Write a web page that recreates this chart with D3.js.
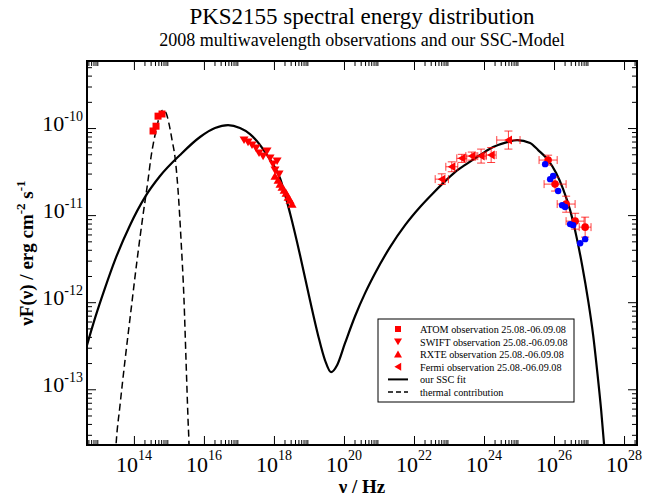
<!DOCTYPE html>
<html>
<head>
<meta charset="utf-8">
<script src="https://cdn.jsdelivr.net/npm/d3@7"></script>
<style>
  body { margin: 0; background: #fff; }
  text { font-family: "Liberation Serif", "Times New Roman", serif; }
</style>
</head>
<body>
<svg id="chart" width="662" height="498"></svg>
<script>
// ---- data (nu in Hz, nuF_nu in erg cm^-2 s^-1) ----
const xTickExp = [14, 16, 18, 20, 22, 24, 26, 28];
const yTickExp = [-13, -12, -11, -10];

const sscFit = [
	[4.57e12, 3.21e-13], [7.74e12, 6.55e-13], [1.49e13, 1.45e-12], [2.88e13, 3.04e-12],
	[7.74e13, 7.67e-12], [2.07e14, 1.61e-11], [5.57e14, 2.81e-11], [2.07e15, 4.9e-11],
	[7.74e15, 7.89e-11], [2.07e16, 1.0e-10], [4.89e16, 1.08e-10], [1.07e17, 1.0e-10],
	[2.07e17, 8.53e-11], [6.35e17, 4.9e-11], [1.49e18, 2.66e-11], [2.88e18, 1.05e-11],
	[5.57e18, 3.47e-12], [1.07e19, 1.05e-12], [1.82e19, 4.18e-13], [2.88e19, 2.15e-13],
	[4.28e19, 1.57e-13], [6.35e19, 1.89e-13], [1.07e20, 3.38e-13], [2.07e20, 6.9e-13],
	[4.01e20, 1.27e-12], [7.74e20, 2.15e-12], [2.07e21, 4.29e-12], [5.57e21, 7.67e-12],
	[1.49e22, 1.24e-11], [3.29e22, 1.74e-11], [6.78e22, 2.33e-11], [1.49e23, 3.12e-11],
	[3.29e23, 3.91e-11], [7.74e23, 4.9e-11], [1.82e24, 6.05e-11], [4.57e24, 6.9e-11],
	[8.83e24, 7.28e-11], [2.07e25, 6.73e-11], [3.52e25, 5.58e-11], [6.78e25, 4.29e-11],
	[1.15e26, 3.04e-11], [1.82e26, 1.99e-11], [2.88e26, 1.14e-11], [4.28e26, 5.89e-12],
	[6.35e26, 2.66e-12], [9.42e26, 1.05e-12], [1.31e27, 4.18e-13], [1.7e27, 1.65e-13],
	[2.22e27, 5.74e-14], [2.7e27, 2.27e-14], [3.08e27, 1.17e-14]
];

const thermal = [
	[2.75e13, 1.0e-14], [3.08e13, 2.27e-14], [4.01e13, 6.55e-14], [5.57e13, 2.15e-13],
	[8.26e13, 8.09e-13], [1.23e14, 3.04e-12], [1.82e14, 1.0e-11], [2.53e14, 2.52e-11],
	[3.08e14, 4.65e-11], [3.75e14, 7.28e-11], [4.57e14, 1.05e-10], [5.57e14, 1.45e-10],
	[6.78e14, 1.61e-10], [8.26e14, 1.49e-10], [1.01e15, 1.11e-10], [1.23e15, 7.28e-11],
	[1.49e15, 4.65e-11], [1.82e15, 1.94e-11], [2.22e15, 5.16e-12], [2.7e15, 1.05e-12],
	[3.08e15, 2.15e-13], [3.52e15, 4.41e-14], [3.75e15, 2.27e-14], [3.9e15, 1.0e-14]
];

const atom = [[3.52e14, 9.25e-11], [4.28e14, 1.05e-10], [4.89e14, 1.37e-10], [6.35e14, 1.45e-10]];

const swift = [
	[1.4e17, 7.28e-11], [1.82e17, 6.9e-11], [2.37e17, 6.38e-11], [3.08e17, 5.89e-11],
	[3.75e17, 5.16e-11], [4.89e17, 4.76e-11], [6.35e17, 5.45e-11], [7.74e17, 4.52e-11],
	[9.42e17, 3.85e-11], [1.23e18, 4.18e-11], [1.07e18, 3.29e-11], [1.4e18, 2.96e-11]
];

const rxte = [
	[1.07e18, 2.81e-11], [1.31e18, 2.52e-11], [1.49e18, 2.27e-11], [1.7e18, 2.1e-11],
	[1.95e18, 1.94e-11], [2.22e18, 1.79e-11], [2.53e18, 1.61e-11], [2.88e18, 1.49e-11],
	[3.29e18, 1.34e-11]
];

// [nu, nuLo, nuHi, flux, fluxLo, fluxHi]
const fermi = [
	[6.22e22, 4.03e22, 9.61e22, 2.59e-11, 2.25e-11, 2.98e-11],
	[1.2e23, 8.11e22, 1.78e23, 3.59e-11, 3.15e-11, 4.09e-11],
	[2.32e23, 1.67e23, 3.23e23, 4.49e-11, 4.03e-11, 4.99e-11],
	[4.48e23, 3.03e23, 6.63e23, 4.76e-11, 4.28e-11, 5.3e-11],
	[8.26e23, 5.95e23, 1.15e24, 4.76e-11, 3.96e-11, 5.73e-11],
	[1.6e24, 1.15e24, 2.22e24, 4.9e-11, 4.02e-11, 5.97e-11],
	[4.98e24, 2.31e24, 1.07e25, 7.28e-11, 5.73e-11, 9.24e-11]
];

const tevRed = [
	[6.78e25, 3.74e25, 1.23e26, 4.29e-11, 3.76e-11, 4.88e-11],
	[1.07e26, 5.2e25, 2.21e26, 2.27e-11, 1.89e-11, 2.73e-11],
	[2.22e26, 1.23e26, 4.0e26, 1.34e-11, 1.08e-11, 1.65e-11],
	[4.01e26, 2.21e26, 7.23e26, 8.53e-12, 6.9e-12, 1.05e-11],
	[7.74e26, 5.24e26, 1.14e27, 7.28e-12, 5.59e-12, 9.48e-12]
];

const tevBlue = [
	[5.57e25, 4.57e25, 6.78e25, 3.85e-11], [7.74e25, 6.35e25, 9.42e25, 2.59e-11],
	[9.42e25, 7.74e25, 1.15e26, 2.81e-11], [1.31e26, 1.07e26, 1.6e26, 1.89e-11],
	[1.7e26, 1.4e26, 2.07e26, 1.3e-11], [2.07e26, 1.7e26, 2.53e26, 1.24e-11],
	[2.88e26, 2.37e26, 3.52e26, 7.89e-12], [3.52e26, 2.88e26, 4.28e26, 7.67e-12],
	[7.74e26, 6.35e26, 9.42e26, 5.3e-12], [5.57e26, 4.57e26, 6.78e26, 4.76e-12]
];

const legendItems = [
	{ label: "ATOM observation 25.08.-06.09.08", type: "square" },
	{ label: "SWIFT observation 25.08.-06.09.08", type: "down" },
	{ label: "RXTE observation 25.08.-06.09.08", type: "up" },
	{ label: "Fermi observation 25.08.-06.09.08", type: "left" },
	{ label: "our SSC fit", type: "solid" },
	{ label: "thermal contribution", type: "dashed" }
];

// ---- layout ----
const plot = { l: 87, r: 637, t: 61, b: 445 };
const svg = d3.select("#chart");

const xScale = d3.scaleLog().domain([Math.pow(10, 12.66), Math.pow(10, 28.37)]).range([plot.l, plot.r]);
const yScale = d3.scaleLog().domain([Math.pow(10, -13.64), Math.pow(10, -9.23)]).range([plot.b, plot.t]);

svg.append("defs").append("clipPath").attr("id", "clip")
	.append("rect")
	.attr("x", plot.l).attr("y", plot.t)
	.attr("width", plot.r - plot.l).attr("height", plot.b - plot.t);

// titles
svg.append("text").attr("x", 362).attr("y", 24).attr("text-anchor", "middle")
	.style("font-size", "23px").text("PKS2155 spectral energy distribution");
svg.append("text").attr("x", 362).attr("y", 46).attr("text-anchor", "middle")
	.style("font-size", "18px").text("2008 multiwavelength observations and our SSC-Model");

// ---- ticks ----
const xMajor = xTickExp.map((e) => Math.pow(10, e));
const xMinor = [];
[12, 14, 16, 18, 20, 22, 24, 26, 28].forEach((e) => {
	for (let k = 2; k <= 9; k++) xMinor.push(k * Math.pow(10, e));
});
const yMajor = yTickExp.map((e) => Math.pow(10, e));
const yMinor = [];
[-14, -13, -12, -11, -10].forEach((e) => {
	for (let k = 2; k <= 9; k++) yMinor.push(k * Math.pow(10, e));
});
const inX = (v) => v >= xScale.domain()[0] && v <= xScale.domain()[1];
const inY = (v) => v >= yScale.domain()[0] && v <= yScale.domain()[1];

function tickAxis(axisFn, scale, values, size, transform) {
	let g = svg.append("g")
		.attr("transform", transform)
		.call(axisFn(scale).tickValues(values).tickSize(size).tickFormat(""));
	g.select(".domain").remove();
	g.selectAll("line").attr("stroke", "#000").attr("stroke-width", 1);
}

tickAxis(d3.axisBottom, xScale, xMajor.filter(inX), -9, `translate(0, ${plot.b})`);
tickAxis(d3.axisBottom, xScale, xMinor.filter(inX), -5, `translate(0, ${plot.b})`);
tickAxis(d3.axisTop, xScale, xMajor.filter(inX), -9, `translate(0, ${plot.t})`);
tickAxis(d3.axisTop, xScale, xMinor.filter(inX), -5, `translate(0, ${plot.t})`);
tickAxis(d3.axisLeft, yScale, yMajor, -9, `translate(${plot.l}, 0)`);
tickAxis(d3.axisLeft, yScale, yMinor.filter(inY), -5, `translate(${plot.l}, 0)`);
tickAxis(d3.axisRight, yScale, yMajor, -9, `translate(${plot.r}, 0)`);
tickAxis(d3.axisRight, yScale, yMinor.filter(inY), -5, `translate(${plot.r}, 0)`);

// tick labels
xTickExp.forEach((e) => {
	let t = svg.append("text")
		.attr("x", xScale(Math.pow(10, e)))
		.attr("y", 472)
		.attr("text-anchor", "middle")
		.style("font-size", "22px");
	t.append("tspan").text("10");
	t.append("tspan").attr("dy", -12).style("font-size", "14px").text(e);
});
yTickExp.forEach((e) => {
	let t = svg.append("text")
		.attr("x", 83)
		.attr("y", yScale(Math.pow(10, e)) + 3)
		.attr("text-anchor", "end")
		.style("font-size", "22px");
	t.append("tspan").text("10");
	t.append("tspan").attr("dy", -10).style("font-size", "14px").text(e);
});

// axis titles
svg.append("text").attr("x", 362).attr("y", 493).attr("text-anchor", "middle")
	.style("font-size", "19px").style("font-weight", "bold").text("ν / Hz");

let yl = svg.append("text")
	.attr("transform", `translate(33, ${(plot.t + plot.b) / 2}) rotate(-90)`)
	.attr("text-anchor", "middle")
	.style("font-size", "19px").style("font-weight", "bold");
yl.append("tspan").text("νF(ν) / erg cm");
yl.append("tspan").attr("dy", -8).style("font-size", "13px").text("-2");
yl.append("tspan").attr("dy", 8).text(" s");
yl.append("tspan").attr("dy", -8).style("font-size", "13px").text("-1");

// ---- curves ----
const line = d3.line()
	.x((d) => xScale(d[0]))
	.y((d) => yScale(d[1]))
	.curve(d3.curveMonotoneX);

const curves = svg.append("g").attr("clip-path", "url(#clip)");
curves.append("path").datum(thermal).attr("d", line)
	.attr("fill", "none").attr("stroke", "#000").attr("stroke-width", 1.5)
	.attr("stroke-dasharray", "7,4");
curves.append("path").datum(sscFit).attr("d", line)
	.attr("fill", "none").attr("stroke", "#000").attr("stroke-width", 2.2);

// ---- markers ----
function tri(dir, s) {
	if (dir === "down") return `M${-s},${-s * 0.8}L${s},${-s * 0.8}L0,${s * 0.9}Z`;
	if (dir === "up") return `M${-s},${s * 0.8}L${s},${s * 0.8}L0,${-s * 0.9}Z`;
	return `M${s * 0.8},${-s}L${s * 0.8},${s}L${-s * 0.9},0Z`;
}

const marks = svg.append("g").attr("clip-path", "url(#clip)");

function errorBars(data, color, withY, cap) {
	let g = marks.append("g").attr("stroke", color).attr("stroke-width", 1).attr("stroke-opacity", 0.75);
	data.forEach((d) => {
		let cx = xScale(d[0]), cy = yScale(d[3]);
		let x1 = xScale(d[1]), x2 = xScale(d[2]);
		g.append("line").attr("x1", x1).attr("x2", x2).attr("y1", cy).attr("y2", cy);
		g.append("line").attr("x1", x1).attr("x2", x1).attr("y1", cy - cap).attr("y2", cy + cap);
		g.append("line").attr("x1", x2).attr("x2", x2).attr("y1", cy - cap).attr("y2", cy + cap);
		if (withY) {
			let y1 = yScale(d[4]), y2 = yScale(d[5]);
			g.append("line").attr("x1", cx).attr("x2", cx).attr("y1", y1).attr("y2", y2);
			g.append("line").attr("x1", cx - cap).attr("x2", cx + cap).attr("y1", y1).attr("y2", y1);
			g.append("line").attr("x1", cx - cap).attr("x2", cx + cap).attr("y1", y2).attr("y2", y2);
		}
	});
}

errorBars(fermi, "#ff0000", true, 4);
errorBars(tevRed, "#ff0000", true, 4);
errorBars(tevBlue, "#0000ff", false, 0);

marks.append("g").selectAll("rect").data(atom).join("rect")
	.attr("x", (d) => xScale(d[0]) - 3.5).attr("y", (d) => yScale(d[1]) - 3.5)
	.attr("width", 7).attr("height", 7).attr("fill", "#ff0000");

marks.append("g").selectAll("path").data(swift).join("path")
	.attr("transform", (d) => `translate(${xScale(d[0])},${yScale(d[1])})`)
	.attr("d", tri("down", 4.5)).attr("fill", "#ff0000");

marks.append("g").selectAll("path").data(rxte).join("path")
	.attr("transform", (d) => `translate(${xScale(d[0])},${yScale(d[1])})`)
	.attr("d", tri("up", 4.5)).attr("fill", "#ff0000");

marks.append("g").selectAll("path").data(fermi).join("path")
	.attr("transform", (d) => `translate(${xScale(d[0])},${yScale(d[3])})`)
	.attr("d", tri("left", 4.5)).attr("fill", "#ff0000");

marks.append("g").selectAll("circle").data(tevRed).join("circle")
	.attr("cx", (d) => xScale(d[0])).attr("cy", (d) => yScale(d[3]))
	.attr("r", 3.8).attr("fill", "#ff0000");

marks.append("g").selectAll("circle").data(tevBlue).join("circle")
	.attr("cx", (d) => xScale(d[0])).attr("cy", (d) => yScale(d[3]))
	.attr("r", 3.2).attr("fill", "#0000ff");

// frame
svg.append("rect")
	.attr("x", plot.l).attr("y", plot.t)
	.attr("width", plot.r - plot.l).attr("height", plot.b - plot.t)
	.attr("fill", "none").attr("stroke", "#000").attr("stroke-width", 2);

// ---- legend ----
const lg = svg.append("g").attr("transform", "translate(378, 319)");
lg.append("rect").attr("width", 196).attr("height", 83)
	.attr("fill", "#fff").attr("stroke", "#000").attr("stroke-width", 1);

legendItems.forEach((item, i) => {
	let cy = 10 + i * 12.6;
	let g = lg.append("g").attr("transform", `translate(20, ${cy})`);
	if (item.type === "square") {
		g.append("rect").attr("x", -3).attr("y", -3).attr("width", 6).attr("height", 6).attr("fill", "#ff0000");
	} else if (item.type === "solid" || item.type === "dashed") {
		g.append("line").attr("x1", -10).attr("x2", 10).attr("y1", 0).attr("y2", 0)
			.attr("stroke", "#000").attr("stroke-width", item.type === "solid" ? 2 : 1.5)
			.attr("stroke-dasharray", item.type === "dashed" ? "5,3" : null);
	} else {
		g.append("path").attr("d", tri(item.type, 4)).attr("fill", "#ff0000");
	}
	lg.append("text").attr("x", 42).attr("y", cy + 4)
		.style("font-size", "10.2px").text(item.label);
});
</script>
</body>
</html>
